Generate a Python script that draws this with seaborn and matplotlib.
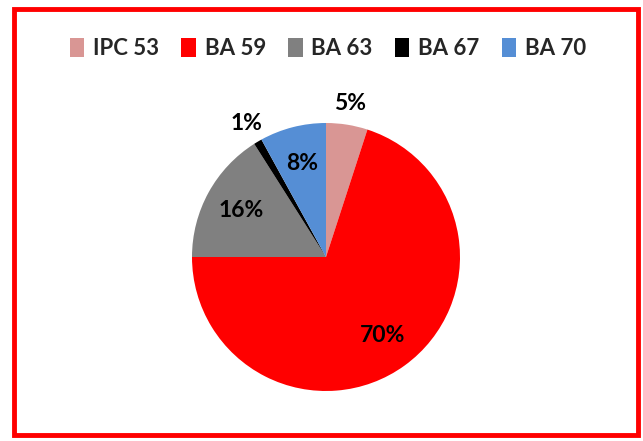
import matplotlib
matplotlib.use("Agg")
import matplotlib.pyplot as plt
import seaborn as sns
import numpy as np
from matplotlib.patches import Rectangle, Patch

sns.set_theme(style="white")
plt.rcParams["font.family"] = ["Lato", "DejaVu Sans"]

categories = ["IPC 53", "BA 59", "BA 63", "BA 67", "BA 70"]
shares = [5, 70, 16, 1, 8]
colors = ["#D99694", "#FF0000", "#808080", "#000000", "#558ED5"]
# labels placed outside the pie for the thin slices
outside = [True, False, False, True, False]

W, H = 643, 441
fig = plt.figure(figsize=(W / 100, H / 100), dpi=100)
fig.patch.set_facecolor("white")

cx, cy, r = 326, 257, 134
ax = fig.add_axes([(cx - r) / W, (H - cy - r) / H, 2 * r / W, 2 * r / H])
wedges, _ = ax.pie(shares, colors=colors, startangle=90, counterclock=False,
                   wedgeprops=dict(linewidth=0))
ax.set_xlim(-1, 1)
ax.set_ylim(-1, 1)
ax.set_aspect("equal")
ax.axis("off")

for w, val, out in zip(wedges, shares, outside):
    mid = np.deg2rad((w.theta1 + w.theta2) / 2)
    d = 1.16 if out else 0.72
    ax.text(d * np.cos(mid), d * np.sin(mid), f"{val}%", ha="center", va="center",
            fontsize=16.5, fontweight="bold", color="black")

handles = [Patch(facecolor=c, edgecolor="none") for c in colors]
fig.legend(handles, categories, loc="center", bbox_to_anchor=(0.51, 0.89),
           ncol=5, frameon=False, prop=dict(weight="bold", size=16),
           handlelength=0.65, handleheight=0.9, handletextpad=0.4, columnspacing=1.0)

fig.add_artist(Rectangle((14 / W, 6 / H), 624 / W, 426 / H, transform=fig.transFigure,
                         fill=False, edgecolor="#FF0000", linewidth=3.5))

fig.savefig("out.png", dpi=100)
